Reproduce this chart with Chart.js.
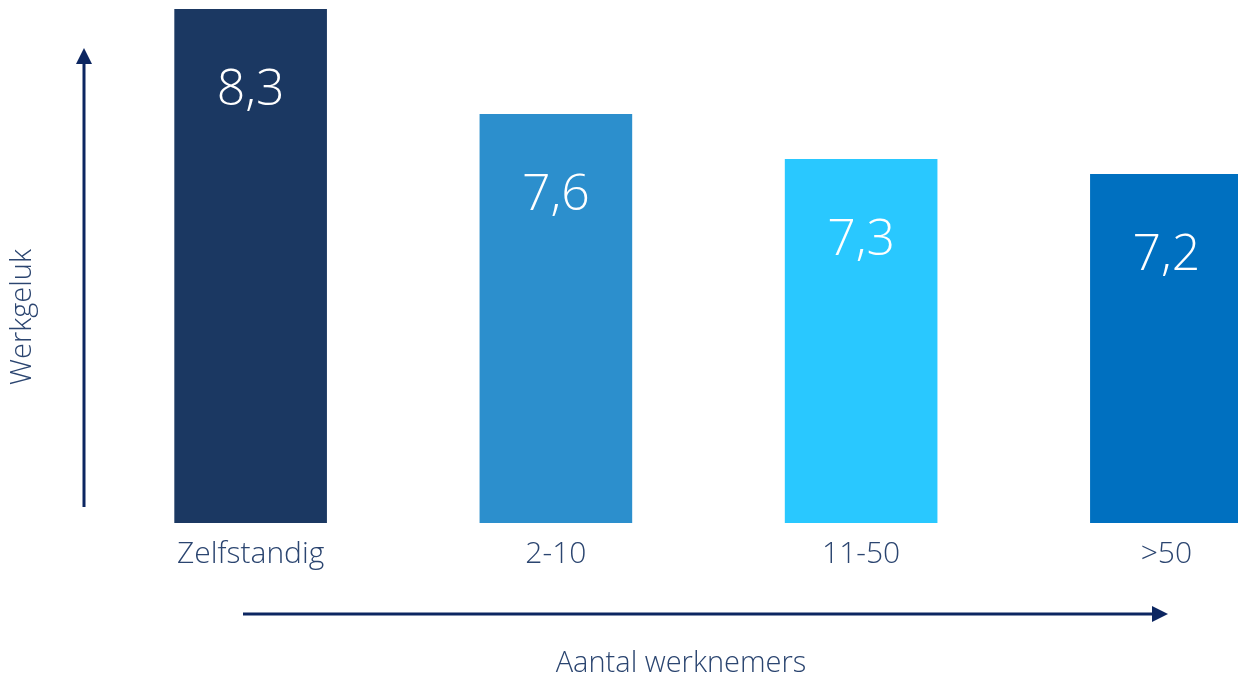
<!DOCTYPE html>
<html>
<head>
<meta charset="utf-8">
<script src="https://cdn.jsdelivr.net/npm/chart.js@4"></script>
<style>
  html, body { margin: 0; padding: 0; background: #fff; }
  #wrap { width: 1238px; height: 678px; overflow: hidden; position: relative; }
  #inner { width: 1330px; height: 678px; }
</style>
</head>
<body>
<div id="wrap"><div id="inner"><canvas id="chart"></canvas></div></div>
<script>
// data
var categories = ["Zelfstandig", "2-10", "11-50", ">50"];
var werkgeluk = [8.3, 7.6, 7.3, 7.2];
var barColors = ["#1b3862", "#2c8fcd", "#29c8ff", "#0070c0"];
var yTitle = "Werkgeluk";
var xTitle = "Aantal werknemers";

var textColor = "#2b4570";
var arrowColor = "#0c2661";
var fontFamily = "'Open Sans', 'Lato', sans-serif";

function drawArrow(ctx, x1, y1, x2, y2) {
    var ang = Math.atan2(y2 - y1, x2 - x1);
    var len = 16, half = 8;
    ctx.save();
    ctx.strokeStyle = arrowColor;
    ctx.fillStyle = arrowColor;
    ctx.lineWidth = 3;
    ctx.beginPath();
    ctx.moveTo(x1, y1);
    ctx.lineTo(x2 - Math.cos(ang) * len, y2 - Math.sin(ang) * len);
    ctx.stroke();
    ctx.beginPath();
    ctx.moveTo(x2, y2);
    ctx.lineTo(x2 - Math.cos(ang) * len - Math.sin(ang) * half, y2 - Math.sin(ang) * len + Math.cos(ang) * half);
    ctx.lineTo(x2 - Math.cos(ang) * len + Math.sin(ang) * half, y2 - Math.sin(ang) * len - Math.cos(ang) * half);
    ctx.closePath();
    ctx.fill();
    ctx.restore();
}

var decorations = {
    id: "decorations",
    afterDraw: function(chart) {
        var ctx = chart.ctx;
        drawArrow(ctx, 84, 507, 84, 48);
        drawArrow(ctx, 243, 614, 1168, 614);

        ctx.save();
        ctx.fillStyle = textColor;
        ctx.font = "300 29px " + fontFamily;
        ctx.textAlign = "center";
        ctx.textBaseline = "middle";
        ctx.fillText(xTitle, 681, 664);
        ctx.translate(23, 317);
        ctx.rotate(-Math.PI / 2);
        ctx.fillText(yTitle, 0, 0);
        ctx.restore();
    }
};

var valueLabels = {
    id: "valueLabels",
    afterDatasetsDraw: function(chart) {
        var ctx = chart.ctx;
        var meta = chart.getDatasetMeta(0);
        ctx.save();
        ctx.fillStyle = "#ffffff";
        ctx.font = "300 50px " + fontFamily;
        ctx.textAlign = "center";
        ctx.textBaseline = "middle";
        meta.data.forEach(function(bar, i) {
            var txt = werkgeluk[i].toFixed(1).replace(".", ",");
            ctx.fillText(txt, bar.x, bar.y + 82);
        });
        ctx.restore();
    }
};

var chart = new Chart(document.getElementById("chart"), {
    type: "bar",
    data: {
        labels: categories,
        datasets: [{
            data: werkgeluk,
            backgroundColor: barColors,
            borderWidth: 0,
            barPercentage: 1.0,
            categoryPercentage: 0.5
        }]
    },
    options: {
        responsive: true,
        maintainAspectRatio: false,
        animation: false,
        layout: { padding: { left: 98, right: 11, top: 9, bottom: 0 } },
        plugins: {
            legend: { display: false },
            tooltip: { enabled: false }
        },
        scales: {
            y: {
                display: false,
                min: 4.873,
                max: 8.3
            },
            x: {
                grid: { display: false, drawTicks: false },
                border: { display: false },
                afterFit: function(scale) { scale.height = 155; },
                ticks: {
                    color: textColor,
                    padding: 13,
                    font: { family: fontFamily, size: 30, weight: 300 }
                }
            }
        }
    },
    plugins: [decorations, valueLabels]
});
</script>
</body>
</html>
